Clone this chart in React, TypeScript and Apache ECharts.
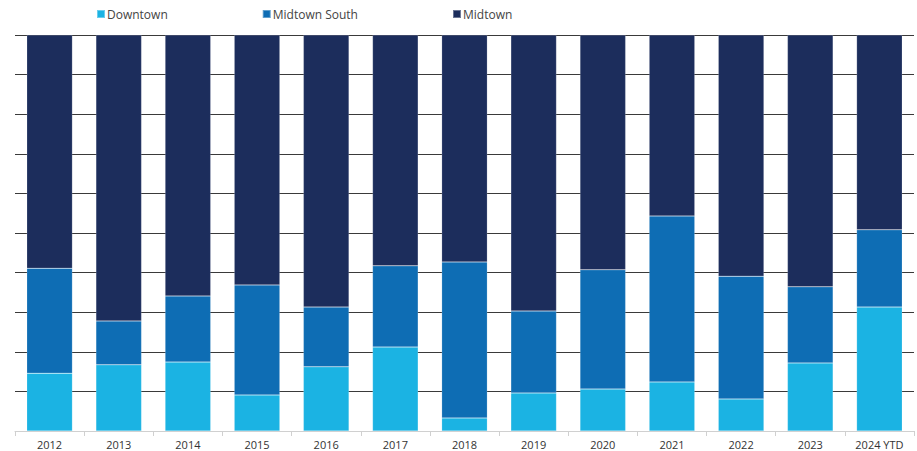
import React, { useEffect, useRef } from "react";
import * as echarts from "echarts";

const categories = ["2012", "2013", "2014", "2015", "2016", "2017", "2018", "2019", "2020", "2021", "2022", "2023", "2024 YTD"];
const downtown = [14.6, 16.7, 17.4, 9.1, 16.2, 21.2, 3.3, 9.6, 10.6, 12.4, 8.1, 17.2, 31.3];
const midtownSouth = [26.5, 11.1, 16.7, 27.8, 15.1, 20.5, 39.4, 20.7, 30.1, 41.9, 31.0, 19.2, 19.5];
const midtown = [58.9, 72.2, 65.9, 63.1, 68.7, 58.3, 57.3, 69.7, 59.3, 45.7, 60.9, 63.6, 49.2];

export default function App() {
  const ref = useRef<HTMLDivElement>(null);
  useEffect(() => {
    if (!ref.current) return;
    const chart = echarts.init(ref.current, undefined, { renderer: "svg" });
    const mk = (name: string, data: number[], color: string) => ({
      name,
      type: "bar",
      stack: "total",
      data,
      barWidth: "66%",
      itemStyle: { color, borderColor: "rgba(255,255,255,0.35)", borderWidth: 0.5 },
    });
    chart.setOption({
      animation: false,
      textStyle: { fontFamily: "Open Sans" },
      legend: {
        top: 3,
        left: 91,
        itemWidth: 8,
        itemHeight: 8,
        itemGap: 94,
        icon: "rect",
        textStyle: { fontSize: 12, color: "#444", fontFamily: "Open Sans", padding: [0, 0, 0, -3] },
        data: ["Downtown", "Midtown South", "Midtown"],
      },
      grid: { left: 15, right: 3, top: 35, bottom: 20, containLabel: false },
      xAxis: {
        type: "category",
        data: categories,
        axisLine: { lineStyle: { color: "#d0d0d0", width: 1 } },
        axisTick: { show: true, length: 5, lineStyle: { color: "#d0d0d0" } },
        axisLabel: { fontSize: 11, color: "#333", margin: 8, fontFamily: "Open Sans" },
      },
      yAxis: {
        type: "value",
        min: 0,
        max: 100,
        interval: 10,
        axisLabel: { show: false },
        axisLine: { show: false },
        axisTick: { show: false },
        splitLine: { lineStyle: { color: "#3a3a3a", width: 1 } },
      },
      series: [
        mk("Downtown", downtown, "#1BB3E3"),
        mk("Midtown South", midtownSouth, "#0E6DB4"),
        mk("Midtown", midtown, "#1C2D5C"),
      ],
    });
    return () => chart.dispose();
  }, []);
  return <div ref={ref} style={{ width: 917, height: 451, position: "absolute", left: 0, top: 0 }} />;
}
